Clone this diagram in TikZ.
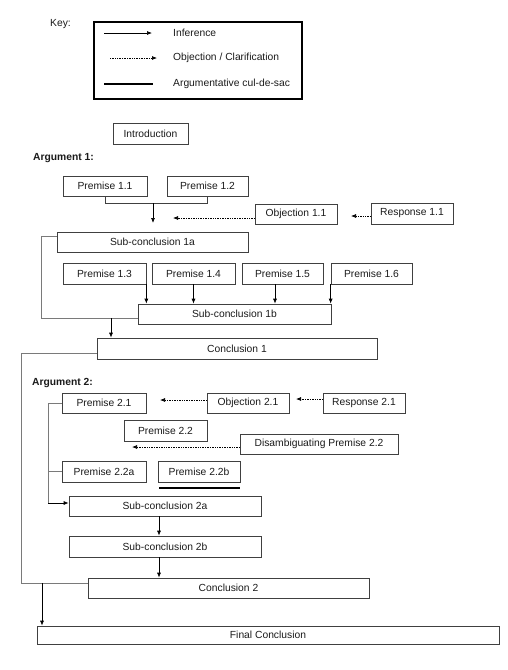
\documentclass[tikz,border=0pt]{standalone}
\usepackage{fontspec}
\setmainfont{Liberation Sans}
\usetikzlibrary{arrows.meta,calc}
\definecolor{boxline}{HTML}{404040}
\definecolor{loopline}{HTML}{7A7A7A}
\definecolor{txt}{HTML}{1A1A1A}
\begin{document}
\begin{tikzpicture}[x=1pt,y=-1pt,
  box/.style={draw=boxline,line width=0.7pt,inner sep=0pt,font=\fontsize{10.3}{12}\selectfont,text=txt},
  lbl/.style={inner sep=0pt,anchor=west,font=\fontsize{10.3}{12}\selectfont,text=txt},
  head/.style={inner sep=0pt,anchor=west,font=\fontsize{10.3}{12}\selectfont\bfseries,text=txt},
  infer/.style={-{Latex[length=5pt,width=4pt]},line width=0.7pt,black},
  objarrow/.style={-{Latex[length=5pt,width=4pt]},densely dotted,line width=0.7pt,black},
  loop/.style={draw=loopline,line width=0.7pt},
  culdesac/.style={line width=1.8pt,black}]
\useasboundingbox (0,0) rectangle (507,670);
% Key
\node[lbl] (keylbl) at (50,24) {Key:};
\node[draw=black,line width=2pt,minimum width=208pt,minimum height=77pt,inner sep=0pt] (keybox) at (198,60.5) {};
\coordinate (k1a) at (104,33); \coordinate (k1b) at (152,33);
\coordinate (k2a) at (110,58); \coordinate (k2b) at (157,58);
\coordinate (k3a) at (104,84); \coordinate (k3b) at (153,84);
\draw[infer] (k1a) -- (k1b);
\draw[objarrow] (k2a) -- (k2b);
\draw[culdesac] (k3a) -- (k3b);
\node[lbl] (kt1) at (173,33) {Inference};
\node[lbl] (kt2) at (173,58) {Objection / Clarification};
\node[lbl] (kt3) at (173,84) {Argumentative cul-de-sac};
% Introduction
\node[box,minimum width=75pt,minimum height=21pt] (intro) at (150.5,133.5) {Introduction};
% Argument 1
\node[head] (arg1) at (33,158) {Argument 1:};
\node[box,minimum width=84pt,minimum height=20pt] (p11) at (105,186) {Premise 1.1};
\node[box,minimum width=81pt,minimum height=20pt] (p12) at (207.5,186) {Premise 1.2};
\node[box,minimum width=82pt,minimum height=20pt] (o11) at (296,214) {Objection 1.1};
\node[box,minimum width=82pt,minimum height=21pt] (r11) at (412,213.5) {Response 1.1};
\node[box,minimum width=191pt,minimum height=20pt] (sc1a) at (152.5,242) {Sub-conclusion 1a};
\node[box,minimum width=83pt,minimum height=21pt] (p13) at (104.5,273.5) {Premise 1.3};
\node[box,minimum width=83pt,minimum height=21pt] (p14) at (193.5,273.5) {Premise 1.4};
\node[box,minimum width=81pt,minimum height=21pt] (p15) at (282.5,273.5) {Premise 1.5};
\node[box,minimum width=81pt,minimum height=21pt] (p16) at (371.5,273.5) {Premise 1.6};
\node[box,minimum width=193pt,minimum height=20pt] (sc1b) at (234.5,314) {Sub-conclusion 1b};
\node[box,minimum width=280pt,minimum height=21pt] (c1) at (237,348.5) {Conclusion 1};
% connectors argument 1
\coordinate (j1) at (153,203);
\coordinate (j1end) at (153,223);
\draw[boxline,line width=0.7pt] (p11.south) -- (p11.south |- j1) -| (p12.south);
\draw[infer] (j1) -- (j1end);
\coordinate (o11a) at (o11.west |- 0,218); \coordinate (o11b) at (173,218);
\draw[objarrow] (o11a) -- (o11b);
\coordinate (r11a) at (r11.west |- 0,216); \coordinate (r11b) at (351,216);
\draw[objarrow] (r11a) -- (r11b);
\coordinate (l1a) at (sc1a.west |- 0,236);
\coordinate (l1b) at (41,318);
\draw[loop] (l1a) -- (41,236) -- (l1b) -- (l1b -| sc1b.west);
\coordinate (j2) at (111,318);
\draw[infer] (j2) -- (j2 |- c1.north);
\draw[infer] (p13.south east) -- (p13.south east |- sc1b.north);
\draw[infer] (p14.south) -- (p14.south |- sc1b.north);
\draw[infer] (p15.south -| 275,0) -- (275,0 |- sc1b.north);
\draw[infer] (p16.south west) -- (p16.south west |- sc1b.north);
% Argument 2
\node[head] (arg2) at (32,383) {Argument 2:};
\node[box,minimum width=84pt,minimum height=20pt] (p21) at (104,403) {Premise 2.1};
\node[box,minimum width=82pt,minimum height=20pt] (o21) at (248,403) {Objection 2.1};
\node[box,minimum width=82pt,minimum height=20pt] (r21) at (364,403) {Response 2.1};
\node[box,minimum width=83pt,minimum height=21pt] (p22) at (165.5,430.5) {Premise 2.2};
\node[box,minimum width=158pt,minimum height=20pt] (d22) at (319,444) {Disambiguating Premise 2.2};
\node[box,minimum width=84pt,minimum height=21pt] (p22a) at (104,471.5) {Premise 2.2a};
\node[box,minimum width=82pt,minimum height=21pt] (p22b) at (199,471.5) {Premise 2.2b};
\node[box,minimum width=192pt,minimum height=20pt] (sc2a) at (165,506) {Sub-conclusion 2a};
\node[box,minimum width=192pt,minimum height=21pt] (sc2b) at (165,546.5) {Sub-conclusion 2b};
\node[box,minimum width=281pt,minimum height=20pt] (c2) at (228.5,588) {Conclusion 2};
\node[box,minimum width=462pt,minimum height=18pt] (fc) at (268,635) {Final Conclusion};
% connectors argument 2
\coordinate (o21a) at (o21.west |- 0,400); \coordinate (o21b) at (160,400);
\draw[objarrow] (o21a) -- (o21b);
\coordinate (r21a) at (r21.west |- 0,399); \coordinate (r21b) at (296,399);
\draw[objarrow] (r21a) -- (r21b);
\coordinate (d22a) at (d22.west |- 0,447); \coordinate (d22b) at (132,447);
\draw[objarrow] (d22a) -- (d22b);
\coordinate (b2) at (48,503);
\draw[loop] (p21.west) -- (p21.west -| b2) -- (b2);
\draw[loop] (p22a.west) -- (p22a.west -| b2);
\draw[infer] (b2) -- (b2 -| sc2a.west);
\coordinate (cd1) at (159,488); \coordinate (cd2) at (240,488);
\draw[culdesac] (cd1) -- (cd2);
\draw[infer] (sc2a.south -| 159,0) -- (159,0 |- sc2b.north);
\draw[infer] (sc2b.south -| 159,0) -- (159,0 |- c2.north);
\coordinate (l2a) at (c1.west |- 0,353);
\coordinate (l2b) at (21,583);
\draw[loop] (l2a) -- (21,353) -- (l2b) -- (l2b -| c2.west);
\coordinate (j3) at (42,583);
\draw[infer] (j3) -- (j3 |- fc.north);
\end{tikzpicture}
\end{document}
